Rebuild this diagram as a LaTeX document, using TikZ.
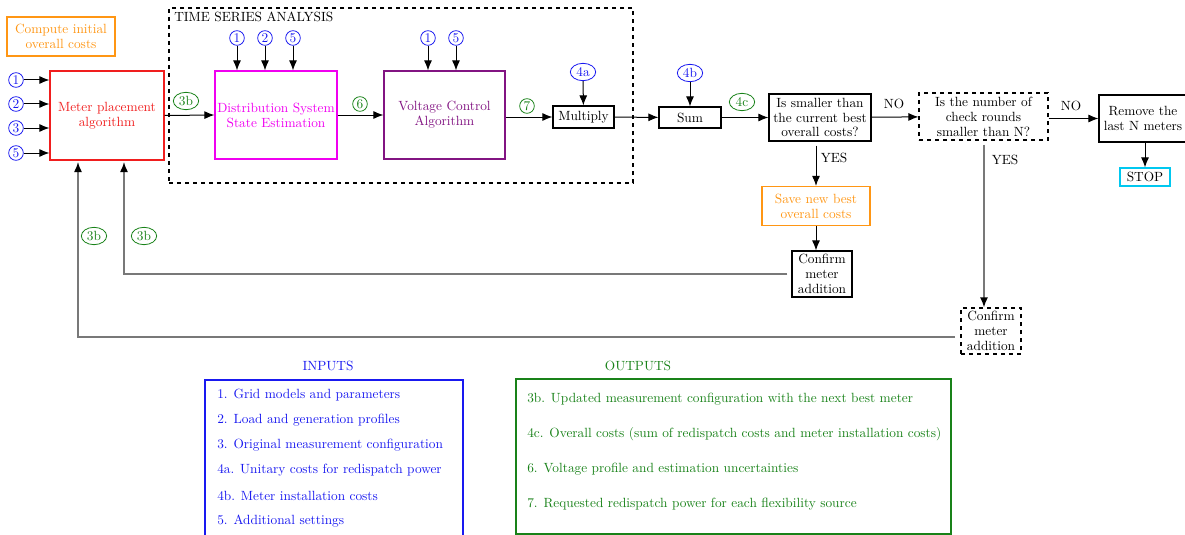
\documentclass[tikz,border=0pt]{standalone}
\usetikzlibrary{arrows.meta,shapes.geometric,calc}
\definecolor{cblue}{RGB}{25,25,240}
\definecolor{cgreen}{RGB}{25,130,25}
\definecolor{corange}{RGB}{255,150,20}
\definecolor{cmag}{RGB}{240,0,240}
\definecolor{cpurp}{RGB}{130,20,130}
\definecolor{cred}{RGB}{240,30,30}
\definecolor{ccyan}{RGB}{0,200,240}
\definecolor{cgray}{RGB}{120,120,120}
\tikzset{
  base/.style={font=\fontsize{10}{11.2}\selectfont},
  box/.style={base, draw, line width=0.9pt, align=center, inner sep=1pt},
  arr/.style={-{Latex[length=7.5pt,width=6pt]}, line width=0.75pt},
  garr/.style={-{Latex[length=7.5pt,width=6pt,color=black]}, draw=cgray, line width=1.1pt},
  bnum/.style={circle, draw=cblue, text=cblue, line width=0.6pt, inner sep=0pt, minimum size=11pt, font=\fontsize{10}{10}\selectfont},
  bell/.style={ellipse, draw=cblue, text=cblue, line width=0.6pt, inner sep=0pt, minimum height=13pt, minimum width=19pt, font=\fontsize{10}{10}\selectfont},
  gnum/.style={circle, draw=cgreen, text=cgreen, line width=0.6pt, inner sep=0pt, minimum size=11pt, font=\fontsize{10}{10}\selectfont},
  gell/.style={ellipse, draw=cgreen, text=cgreen, line width=0.6pt, inner sep=0pt, minimum height=13pt, minimum width=19pt, font=\fontsize{10}{10}\selectfont},
  lbl/.style={base},
}
\begin{document}
\begin{tikzpicture}[x=0.75pt,y=-0.75pt]
\useasboundingbox (0,0) rectangle (1185,535);
% time series frame
\node[draw, dashed, line width=0.8pt, minimum width=348pt, minimum height=131.25pt, inner sep=0pt] (tsa) at (401,95.5) {};
\node[base, anchor=north west, inner sep=0pt] (tsal) at (174,12) {TIME SERIES ANALYSIS};

% boxes
\node[box, draw=corange, text=corange, minimum width=81pt, minimum height=29.25pt] (comp) at (61,36.5) {Compute initial\\overall costs};
\node[box, draw=cred, text=cred, minimum width=85.5pt, minimum height=66.75pt] (meter) at (107,115.5) {Meter placement\\algorithm};
\node[box, draw=cmag, text=cmag, minimum width=91.5pt, minimum height=66pt] (dsse) at (276,115) {Distribution System\\State Estimation};
\node[box, draw=cpurp, text=cpurp, minimum width=90.75pt, minimum height=66pt] (vca) at (444.5,115) {Voltage Control\\Algorithm};
\node[box, minimum width=45.75pt, minimum height=16.5pt] (mult) at (583.5,117) {Multiply};
\node[box, minimum width=46.5pt, minimum height=15.75pt] (sum) at (690,117.5) {Sum};
\node[box, minimum width=76.5pt, minimum height=35.25pt] (small) at (820,117.5) {Is smaller than\\the current best\\overall costs?};
\node[box, dashed, minimum width=96.75pt, minimum height=35.25pt] (numb) at (983.5,116.5) {Is the number of\\check rounds\\smaller than N?};
\node[box, minimum width=66pt, minimum height=35.25pt] (remove) at (1143,118.5) {Remove the\\last N meters};
\node[box, draw=ccyan, minimum width=37.5pt, minimum height=13.5pt] (stop) at (1145,177) {STOP};
\node[box, draw=corange, text=corange, minimum width=81pt, minimum height=29.25pt] (save) at (816,206) {Save new best\\overall costs};
\node[box, minimum width=45pt, minimum height=34.5pt] (conf1) at (822,274) {Confirm\\meter\\addition};
\node[box, dashed, minimum width=45pt, minimum height=34.5pt] (conf2) at (991,331) {Confirm\\meter\\addition};

% left inputs
\node[bnum] (i1) at (16,80) {1};
\node[bnum] (i2) at (16,104) {2};
\node[bnum] (i3) at (16,128) {3};
\node[bnum] (i5) at (16,153) {5};
\foreach \n in {i1,i2,i3,i5} \draw[arr] (\n) -- (\n -| meter.west);

% DSSE inputs
\node[bnum] (d1) at (237,38) {1};
\node[bnum] (d2) at (265,38) {2};
\node[bnum] (d5) at (293,38) {5};
\foreach \n in {d1,d2,d5} \draw[arr] (\n) -- (\n |- dsse.north);
% VCA inputs
\node[bnum] (v1) at (428,38) {1};
\node[bnum] (v5) at (456,38) {5};
\foreach \n in {v1,v5} \draw[arr] (\n) -- (\n |- vca.north);
% 4a, 4b
\node[bell] (c4a) at (583,72) {4a};
\draw[arr] (c4a) -- (mult);
\node[bell] (c4b) at (690,73) {4b};
\draw[arr] (c4b) -- (sum);

% main chain
\draw[arr] (meter.east) -- (dsse.west);
\node[gell] (l3b) at (186,101) {3b};
\draw[arr] (dsse.east) -- (vca.west);
\node[gnum] (l6) at (360,104) {6};
\draw[arr] (vca.east |- mult) -- (mult.west);
\node[gnum] (l7) at (527,106) {7};
\draw[arr] (mult) -- (sum);
\draw[arr] (sum) -- (small);
\node[gell] (l4c) at (742,102) {4c};
\draw[arr] (small) -- (numb);
\node[lbl] (lno1) at (894,104) {NO};
\draw[arr] (numb.east |- remove) -- (remove.west);
\node[lbl] (lno2) at (1071,106) {NO};
\draw[arr] (stop |- remove.south) -- (stop.north);

% YES branches
\draw[arr] ([yshift=-3pt]small.south -| save) -- (save.north);
\node[lbl] (lyes1) at (834,158) {YES};
\draw[arr] (save.south) -- (save.south |- conf1.north);
\coordinate (yb) at (984,0);
\draw[garr] ([yshift=-3pt]numb.south -| yb) -- (yb |- conf2.north);
\node[lbl] (lyes2) at (1005,160) {YES};

% feedback lines
\coordinate (fb1) at (124,162);
\coordinate (fb2) at (78,162);
\coordinate (fy) at (0,337);
\draw[garr] ([xshift=-3pt]conf1.west) -| (fb1);
\draw[garr] ([xshift=-4pt]conf2.west |- fy) -| (fb2);
\node[gell] (l3b1) at (94,236) {3b};
\node[gell] (l3b2) at (144,236) {3b};

% inputs legend
\node[base, text=cblue] (intitle) at (328,366) {INPUTS};
\node[draw=cblue, line width=0.9pt, minimum width=193.5pt, minimum height=120pt, inner sep=0pt] (inbox) at (334,460) {};
\foreach \t [count=\k from 0] in {1. Grid models and parameters, 2. Load and generation profiles, 3. Original measurement configuration, 4a. Unitary costs for redispatch power, 4b. Meter installation costs, 5. Additional settings}
  \node[base, text=cblue, anchor=west, inner sep=0pt] (in\k) at (217,{395+25.2*\k}) {\t};

% outputs legend
\node[base, text=cgreen] (outtitle) at (638,366) {OUTPUTS};
\node[draw=cgreen, line width=0.9pt, minimum width=326.25pt, minimum height=116.25pt, inner sep=0pt] (outbox) at (733.5,456.5) {};
\node[base, text=cgreen, anchor=west, inner sep=0pt] (o1) at (527,399) {3b. Updated measurement configuration with the next best meter};
\node[base, text=cgreen, anchor=west, inner sep=0pt] (o2) at (527,434) {4c. Overall costs (sum of redispatch costs and meter installation costs)};
\node[base, text=cgreen, anchor=west, inner sep=0pt] (o3) at (527,469) {6. Voltage profile and estimation uncertainties};
\node[base, text=cgreen, anchor=west, inner sep=0pt] (o4) at (527,504) {7. Requested redispatch power for each flexibility source};
\end{tikzpicture}
\end{document}
